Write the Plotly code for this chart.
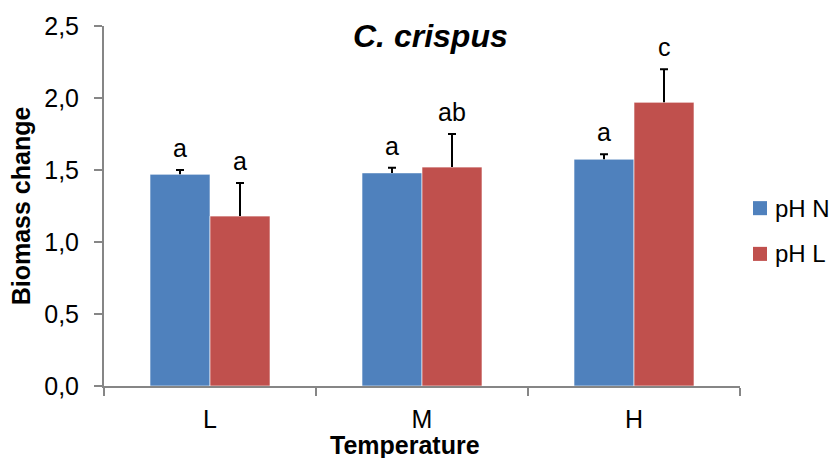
import plotly.graph_objects as go

temps = ["L", "M", "H"]
ph_n = [1.47, 1.48, 1.575]
ph_n_err = [0.03, 0.035, 0.035]
ph_l = [1.18, 1.52, 1.97]
ph_l_err = [0.23, 0.23, 0.23]
letters_n = ["a", "a", "a"]
letters_l = ["a", "ab", "c"]
series_names = ["pH N", "pH L"]
series_colors = ["#4F81BD", "#C0504D"]

FONT = "Liberation Sans, Arial, sans-serif"
AXIS_GRAY = "#868686"
TXT = 25
BAR_EDGE = "rgba(255,255,255,0.6)"

fig = go.Figure()
for key, name, color, vals, errs in zip(["n", "l"], series_names, series_colors,
                                        [ph_n, ph_l], [ph_n_err, ph_l_err]):
    # bar with a plus-only whisker (no caps, so nothing sits on the bar top)
    fig.add_trace(go.Bar(
        name=name, x=temps, y=vals, offsetgroup=key, showlegend=False,
        marker=dict(color=color, line=dict(color=BAR_EDGE, width=1)),
        error_y=dict(type="data", array=errs, symmetric=False,
                     arrayminus=[0] * len(errs), color="black", thickness=2, width=0),
    ))
    # cap at the whisker tip, drawn in the same bar slot
    fig.add_trace(go.Bar(
        name=name + " cap", x=temps, y=[v + e for v, e in zip(vals, errs)],
        offsetgroup=key, showlegend=False, hoverinfo="skip",
        marker=dict(color="rgba(0,0,0,0)", line=dict(width=0)),
        error_y=dict(type="data", array=[0] * len(errs), symmetric=True,
                     color="black", thickness=2, width=4),
    ))

# significance letters above each error bar
annotations = []
for shift, vals, errs, letters in [(-30, ph_n, ph_n_err, letters_n),
                                   (30, ph_l, ph_l_err, letters_l)]:
    for t, v, e, s in zip(temps, vals, errs, letters):
        annotations.append(dict(x=t, y=v + e, xref="x", yref="y", text=s, showarrow=False,
                                xshift=shift, yshift=6, yanchor="bottom",
                                font=dict(family=FONT, size=TXT, color="black")))

annotations.append(dict(x=0.514, y=0.972, xref="paper", yref="paper",
                        text="<b><i>C. crispus</i></b>", showarrow=False,
                        xanchor="center", yanchor="middle",
                        font=dict(family=FONT, size=32, color="black")))
annotations.append(dict(x=0.473, y=-0.2, xref="paper", yref="paper",
                        text="<b>Temperature</b>", showarrow=False,
                        xanchor="center", yanchor="bottom", borderpad=0, yshift=-2,
                        font=dict(family=FONT, size=TXT, color="black")))
annotations.append(dict(x=-0.13, y=0.5, xref="paper", yref="paper",
                        text="<b>Biomass change</b>", showarrow=False, textangle=-90,
                        xanchor="center", yanchor="middle",
                        font=dict(family=FONT, size=TXT, color="black")))

# legend keys on the right of the plot area
shapes = []
key_rows = [0.494, 0.367]
for name, color, yc in zip(series_names, series_colors, key_rows):
    shapes.append(dict(type="rect", xref="paper", yref="paper",
                       x0=1.0204, x1=1.0425, y0=yc - 0.0195, y1=yc + 0.0195,
                       fillcolor=color, line=dict(width=0)))
    annotations.append(dict(x=1.052, y=yc, xref="paper", yref="paper",
                            text=name, showarrow=False, xanchor="left", yanchor="middle",
                            font=dict(family=FONT, size=24, color="black")))

fig.update_layout(
    width=832, height=458,
    margin=dict(l=104, r=92, t=26, b=72),
    paper_bgcolor="white", plot_bgcolor="white",
    barmode="group", bargap=0.434, bargroupgap=0,
    separators=",.",
    font=dict(family=FONT, size=TXT, color="black"),
    showlegend=False,
    annotations=annotations,
    shapes=shapes,
    xaxis=dict(showline=True, linecolor=AXIS_GRAY, linewidth=2,
               ticks="outside", ticklen=8, tickcolor=AXIS_GRAY, tickwidth=2,
               tickson="boundaries", showgrid=False, zeroline=False,
               ticklabelstandoff=10,
               tickfont=dict(family=FONT, size=TXT, color="black")),
    yaxis=dict(range=[0, 2.5], dtick=0.5, tickformat=".1f",
               showline=True, linecolor=AXIS_GRAY, linewidth=2,
               ticks="outside", ticklen=8, tickcolor=AXIS_GRAY, tickwidth=2,
               showgrid=False, zeroline=False, ticklabelstandoff=10,
               tickfont=dict(family=FONT, size=TXT, color="black")),
)

fig.write_html("out.html")
